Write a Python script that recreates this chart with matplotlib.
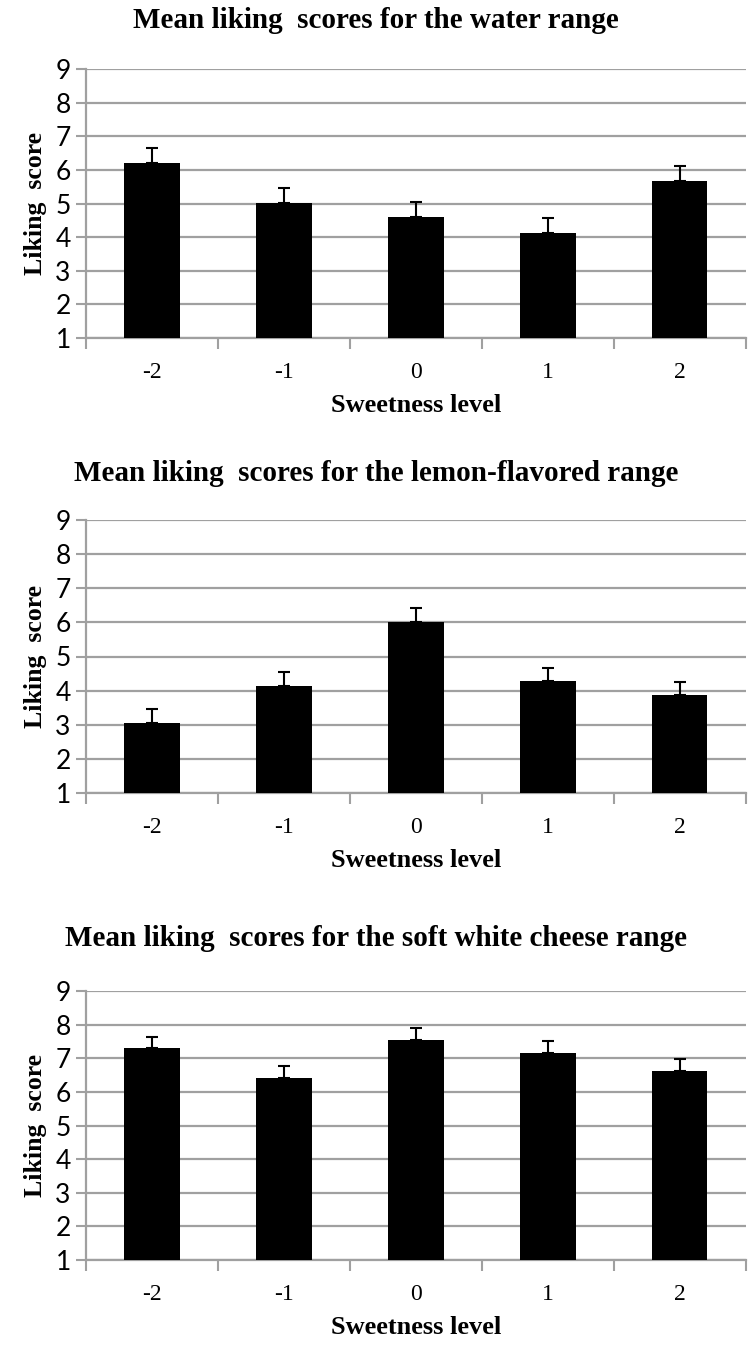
"""Mean liking scores by sweetness level, three product ranges."""

import matplotlib
matplotlib.use("Agg")
import matplotlib.pyplot as plt
import numpy as np

levels = ["-2", "-1", "0", "1", "2"]

water_mean = [6.20, 5.02, 4.60, 4.12, 5.67]
water_err = [0.45, 0.45, 0.44, 0.44, 0.45]

lemon_mean = [3.05, 4.15, 6.01, 4.27, 3.86]
lemon_err = [0.41, 0.41, 0.41, 0.40, 0.40]

cheese_mean = [7.30, 6.40, 7.53, 7.15, 6.62]
cheese_err = [0.33, 0.37, 0.37, 0.37, 0.37]

titles = [
    "Mean liking  scores for the water range",
    "Mean liking  scores for the lemon-flavored range",
    "Mean liking  scores for the soft white cheese range",
]

SERIF = ["Liberation Serif", "DejaVu Serif"]
SANS = ["Lato", "Liberation Sans", "DejaVu Sans"]
GRID = "#a0a0a0"
H = 1347.0

# axes boxes in figure fractions: left, bottom, width, height
boxes = [
    (0.115, 1 - 338 / H, 0.882, 269 / H),
    (0.115, 1 - 793 / H, 0.882, 273 / H),
    (0.115, 1 - 1260 / H, 0.882, 269 / H),
]
title_y = [20, 473, 938]  # pixel centres from the top

fig = plt.figure(figsize=(7.48, 13.47), dpi=100)

panels = [(water_mean, water_err), (lemon_mean, lemon_err), (cheese_mean, cheese_err)]
x = np.arange(len(levels))

for box, (means, errs), title, ty in zip(boxes, panels, titles, title_y):
    ax = fig.add_axes(box)
    ax.bar(x, np.array(means) - 1, bottom=1, width=0.42, color="black", zorder=3)
    ax.errorbar(x, means, yerr=[np.zeros(len(errs)), errs], fmt="none",
                ecolor="black", elinewidth=1.5, capsize=4.5, capthick=1.5, zorder=4)

    ax.set_xlim(-0.5, 4.5)
    ax.set_ylim(1, 9)
    ax.set_yticks(range(1, 10))
    ax.yaxis.grid(True, color=GRID, linewidth=1.6, zorder=0)
    ax.set_axisbelow(True)

    for s in ["top", "right"]:
        ax.spines[s].set_visible(False)
    for s in ["left", "bottom"]:
        ax.spines[s].set_color(GRID)
        ax.spines[s].set_linewidth(1.6)

    ax.set_xticks(x)
    ax.set_xticklabels(levels, family=SERIF, fontsize=17)
    ax.set_xticks(np.arange(-0.5, 5, 1), minor=True)
    ax.tick_params(axis="x", which="major", length=0, pad=17)
    ax.tick_params(axis="x", which="minor", length=8, width=1.5, color=GRID)
    ax.tick_params(axis="y", length=7, width=1.5, color=GRID, pad=4)
    for lab in ax.get_yticklabels():
        lab.set_family(SANS)
        lab.set_fontsize(19)

    ax.set_ylabel("Liking  score", family=SERIF, fontweight="bold", fontsize=18.5, labelpad=6)
    ax.set_xlabel("Sweetness level", family=SERIF, fontweight="bold", fontsize=19, labelpad=8)
    fig.text(376 / 748, 1 - ty / H, title, family=SERIF, fontweight="bold",
             fontsize=21, ha="center", va="center")

fig.savefig("out.png", dpi=100)
plt.close(fig)
